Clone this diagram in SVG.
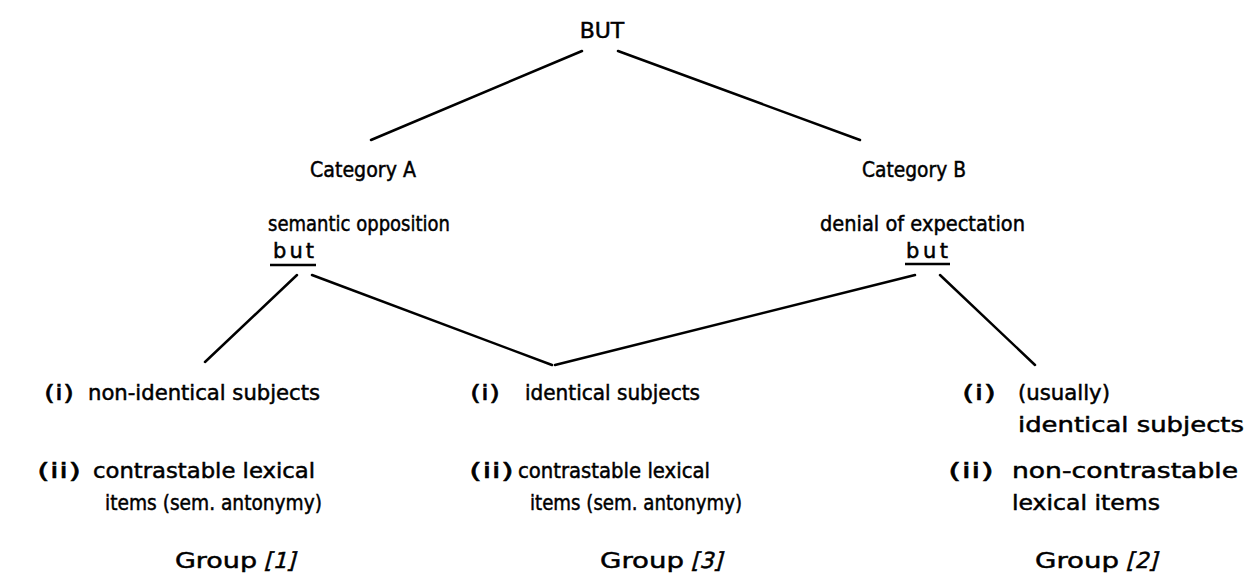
<svg xmlns="http://www.w3.org/2000/svg" width="1247" height="577" viewBox="0 0 1247 577">
<style>
text{font-family:"DejaVu Sans","Liberation Sans",sans-serif;font-size:21px;fill:#000;stroke:#000;stroke-width:0.5}
.l{stroke:#000;stroke-width:2.5;fill:none;stroke-linecap:round}
.s{stroke:#000;stroke-width:2.5;fill:none}
.g{font-size:22px}
.p{font-size:22px}
</style>
<rect width="1247" height="577" fill="#fff"/>
<g id="connectors">
<line class="l" x1="582" y1="51" x2="371" y2="140"/>
<line class="l" x1="618" y1="51" x2="860" y2="140"/>
<line class="l" x1="297" y1="275" x2="205" y2="362"/>
<line class="l" x1="312" y1="275" x2="552" y2="365"/>
<line class="l" x1="915" y1="275" x2="555" y2="365"/>
<line class="l" x1="940" y1="275" x2="1035" y2="365"/>
</g>
<g id="n-but-top"><text x="602" y="38" text-anchor="middle" style="font-size:22px">BUT</text></g>
<g id="n-catA">
<text x="310" y="177" textLength="106" lengthAdjust="spacingAndGlyphs">Category A</text>
<text x="268" y="231" textLength="182" lengthAdjust="spacingAndGlyphs">semantic opposition</text>
<text x="273" y="258" textLength="41" lengthAdjust="spacing">but</text>
<line class="s" x1="270" y1="265" x2="316" y2="265"/>
</g>
<g id="n-catB">
<text x="862" y="177" textLength="104" lengthAdjust="spacingAndGlyphs">Category B</text>
<text x="820" y="231" textLength="205" lengthAdjust="spacingAndGlyphs">denial of expectation</text>
<text x="906" y="258" textLength="42" lengthAdjust="spacing">but</text>
<line class="s" x1="905" y1="264" x2="950" y2="264"/>
</g>
<g id="n-group1">
<text x="44" y="400" class="p" textLength="30" lengthAdjust="spacingAndGlyphs">(i)</text>
<text x="88" y="400" textLength="232" lengthAdjust="spacingAndGlyphs">non-identical subjects</text>
<text x="37" y="478" class="p" textLength="44" lengthAdjust="spacingAndGlyphs">(ii)</text>
<text x="93" y="478" textLength="222" lengthAdjust="spacingAndGlyphs">contrastable lexical</text>
<text x="105" y="510" textLength="217" lengthAdjust="spacingAndGlyphs">items (sem. antonymy)</text>
<text x="175" y="568" class="g" textLength="82" lengthAdjust="spacingAndGlyphs">Group</text>
<text x="264" y="568" class="g" transform="skewX(-15) translate(152 0)">[1]</text>
</g>
<g id="n-group3">
<text x="470" y="400" class="p" textLength="30" lengthAdjust="spacingAndGlyphs">(i)</text>
<text x="525" y="400" textLength="175" lengthAdjust="spacingAndGlyphs">identical subjects</text>
<text x="469" y="478" class="p" textLength="45" lengthAdjust="spacingAndGlyphs">(ii)</text>
<text x="518" y="478" textLength="192" lengthAdjust="spacingAndGlyphs">contrastable lexical</text>
<text x="530" y="510" textLength="212" lengthAdjust="spacingAndGlyphs">items (sem. antonymy)</text>
<text x="600" y="568" class="g" textLength="84" lengthAdjust="spacingAndGlyphs">Group</text>
<text x="691" y="568" class="g" transform="skewX(-15) translate(152 0)">[3]</text>
</g>
<g id="n-group2">
<text x="962" y="400" class="p" textLength="34" lengthAdjust="spacingAndGlyphs">(i)</text>
<text x="1018" y="400" textLength="92" lengthAdjust="spacingAndGlyphs">(usually)</text>
<text x="1018" y="432" textLength="226" lengthAdjust="spacingAndGlyphs">identical subjects</text>
<text x="948" y="478" class="p" textLength="46" lengthAdjust="spacingAndGlyphs">(ii)</text>
<text x="1012" y="478" textLength="226" lengthAdjust="spacingAndGlyphs">non-contrastable</text>
<text x="1012" y="510" textLength="148" lengthAdjust="spacingAndGlyphs">lexical items</text>
<text x="1035" y="568" class="g" textLength="84" lengthAdjust="spacingAndGlyphs">Group</text>
<text x="1126" y="568" class="g" transform="skewX(-15) translate(152 0)">[2]</text>
</g>
</svg>
